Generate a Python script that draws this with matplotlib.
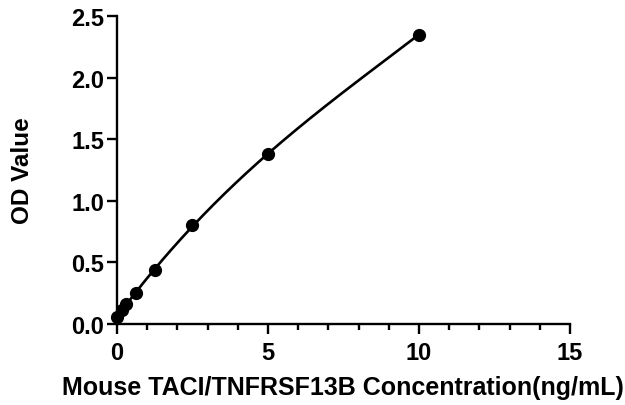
import matplotlib.pyplot as plt
import numpy as np

plt.rcParams['font.family'] = ['Liberation Sans', 'DejaVu Sans']
plt.rcParams['font.weight'] = 'bold'

# standard concentrations (ng/mL) and measured OD
conc = [0, 0.156, 0.3125, 0.625, 1.25, 2.5, 5, 10]
od = [0.06, 0.11, 0.16, 0.25, 0.44, 0.80, 1.38, 2.35]

fig = plt.figure(figsize=(6.25, 4.06), dpi=100)
ax = fig.add_axes([0.187, 0.1995, 0.725, 0.7585])

# smooth fitted curve through the standards
coef = np.polyfit(conc, od, 3)
xs = np.linspace(0, 10, 200)
ax.plot(xs, np.polyval(coef, xs), color='black', lw=1.9, clip_on=False)
ax.plot(conc, od, 'o', color='black', ms=8.5, clip_on=False)

ax.set_xlim(0, 15)
ax.set_ylim(0, 2.5)
ax.set_xticks([0, 5, 10, 15])
ax.set_xticks(np.arange(0, 16, 1), minor=True)
ax.set_yticks([0, 0.5, 1.0, 1.5, 2.0, 2.5])
ax.set_yticklabels(['0.0', '0.5', '1.0', '1.5', '2.0', '2.5'])

for s in ['top', 'right']:
    ax.spines[s].set_visible(False)
for s in ['left', 'bottom']:
    ax.spines[s].set_linewidth(1.7)

ax.tick_params(which='major', length=7, width=1.7, labelsize=17, pad=2)
ax.tick_params(which='minor', length=4, width=1.7)
ax.tick_params(axis='x', which='major', pad=5)

ax.set_xlabel('Mouse TACI/TNFRSF13B Concentration(ng/mL)', fontsize=18,
              fontweight='bold', labelpad=8)
ax.set_ylabel('OD Value', fontsize=17.5, fontweight='bold', labelpad=27)

plt.savefig('out.png', dpi=100)
